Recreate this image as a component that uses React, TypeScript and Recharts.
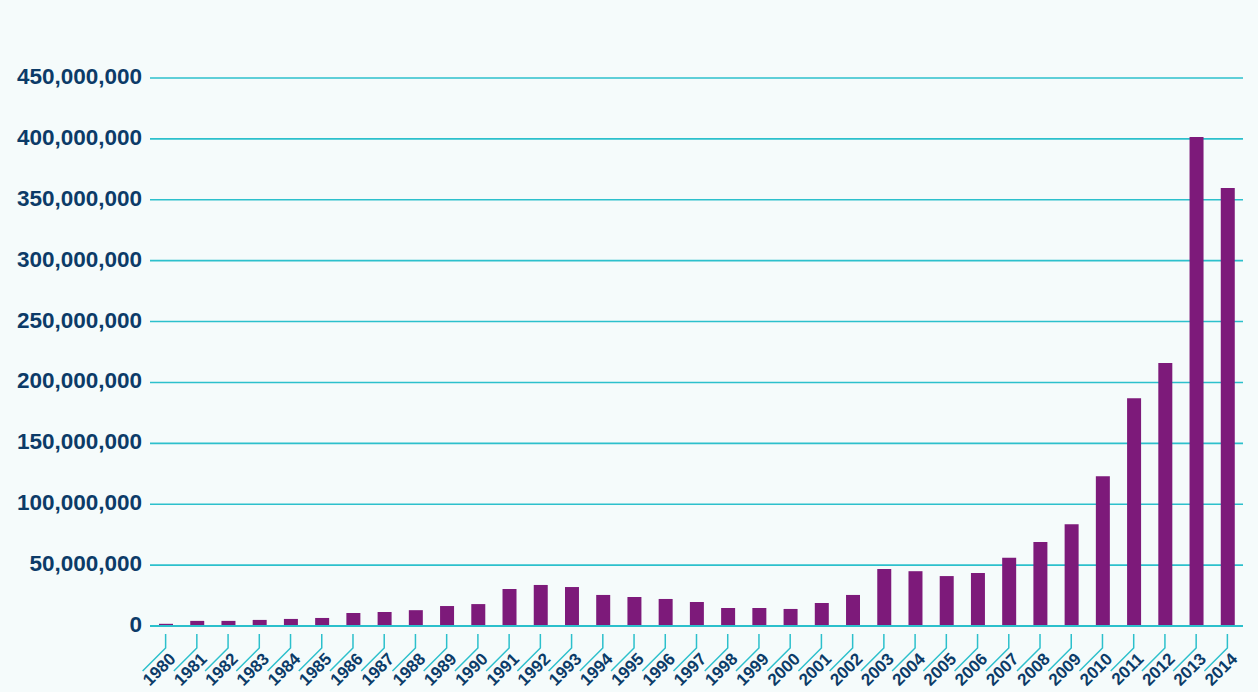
import { Bar, BarChart, CartesianGrid, XAxis, YAxis } from "recharts";

const years = [
  "1980", "1981", "1982", "1983", "1984", "1985", "1986", "1987", "1988", "1989",
  "1990", "1991", "1992", "1993", "1994", "1995", "1996", "1997", "1998", "1999",
  "2000", "2001", "2002", "2003", "2004", "2005", "2006", "2007", "2008", "2009",
  "2010", "2011", "2012", "2013", "2014",
];

const values = [
  1.8, 4.2, 4.2, 5, 5.8, 6.6, 10.7, 11.5, 13, 16.4,
  18, 30.4, 33.7, 32, 25.5, 23.8, 22.2, 19.7, 14.8, 14.8,
  14, 18.9, 25.5, 46.8, 45, 41, 43.5, 56, 69, 83.5,
  123, 187, 216, 401.5, 359.7,
].map((v) => v * 1000000);

const yTicks = [0, 50e6, 100e6, 150e6, 200e6, 250e6, 300e6, 350e6, 400e6, 450e6];

const data = years.map((year, i) => ({ year, value: values[i] }));

const TEAL = "#2cc0cc";
const NAVY = "#0c3b68";
const PURPLE = "#7d1a7a";
const BG = "#f5fbfb";

function YearTick(props: any) {
  const { x, y, payload } = props;
  return (
    <g>
      <path
        d={`M${x},${y} V${y + 14} L${x - 23},${y + 37}`}
        stroke={TEAL}
        strokeWidth={1.5}
        fill="none"
      />
      <text
        x={x + 11}
        y={y + 26}
        transform={`rotate(-45, ${x + 11}, ${y + 26})`}
        textAnchor="end"
        fill={NAVY}
        fontSize={17}
        fontWeight="bold"
        fontFamily="Liberation Sans, Arial, sans-serif"
      >
        {payload.value}
      </text>
    </g>
  );
}

function ValueTick(props: any) {
  const { x, y, payload } = props;
  return (
    <text
      x={x + 0}
      y={y + 6}
      textAnchor="end"
      fill={NAVY}
      fontSize={22.5}
      fontWeight="bold"
      fontFamily="Liberation Sans, Arial, sans-serif"
    >
      {payload.value.toLocaleString("en-US")}
    </text>
  );
}

export default function App() {
  return (
    <div style={{ position: "absolute", left: 0, top: 0, width: 1258, height: 692, background: BG }}>
      <BarChart
        width={1258}
        height={692}
        data={data}
        margin={{ top: 78, right: 15, left: 0, bottom: 0 }}
        barCategoryGap={0}
      >
        <CartesianGrid vertical={false} stroke={TEAL} strokeWidth={1.6} />
        <XAxis
          dataKey="year"
          height={66}
          interval={0}
          axisLine={{ stroke: TEAL, strokeWidth: 2 }}
          tickLine={false}
          tick={<YearTick />}
        />
        <YAxis
          width={150}
          domain={[0, 450e6]}
          ticks={yTicks}
          axisLine={false}
          tickLine={false}
          tickSize={0}
          tickMargin={8}
          tick={<ValueTick />}
        />
        <Bar dataKey="value" fill={PURPLE} barSize={14} isAnimationActive={false} />
      </BarChart>
    </div>
  );
}
